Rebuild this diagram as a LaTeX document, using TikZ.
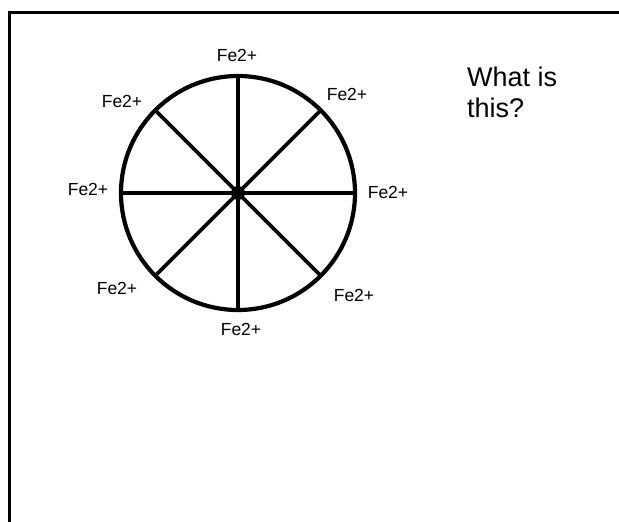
\documentclass[tikz,border=0pt]{standalone}
\usepackage{fontspec}
\setmainfont{Liberation Sans}
\usetikzlibrary{positioning}

\begin{document}
\begin{tikzpicture}[
x=1pt, y=-1pt,
every node/.style={font=\fontsize{17.5}{20}\selectfont},
wheel/.style={circle, draw, line width=4.2pt, minimum size=234pt, inner sep=0pt, outer sep=0pt},
hub/.style={circle, fill, minimum size=14pt, inner sep=0pt},
ion/.style={inner sep=0pt},
question/.style={inner sep=0pt, align=left, font=\fontsize{27}{31}\selectfont},
spoke/.style={line width=3.6pt},
frame/.style={line width=3pt}
]
\useasboundingbox (0,0) rectangle (619,522);

% Frame
\draw[frame] (9.5,523) -- (9.5,12) -- (620,12);

% Wheel
\node[wheel] (wheel) at (238,193) {};
\foreach \a in {0,45,90,135} {
  \draw[spoke] (wheel.\a) -- (wheel.\a+180);
}
\node[hub] (hub) at (wheel.center) {};

% Ions
\node[ion] (ionN)  at (237,55)  {Fe2+};
\node[ion] (ionNE) at (347,94)  {Fe2+};
\node[ion] (ionE)  at (388,192) {Fe2+};
\node[ion] (ionSE) at (354,295) {Fe2+};
\node[ion] (ionS)  at (241,329) {Fe2+};
\node[ion] (ionSW) at (117,288) {Fe2+};
\node[ion] (ionW)  at (88,189)  {Fe2+};
\node[ion] (ionNW) at (122,101) {Fe2+};

% Question
\node[question, anchor=base west] (ask) at (467,117) {What is\\this?};

\end{tikzpicture}
\end{document}
